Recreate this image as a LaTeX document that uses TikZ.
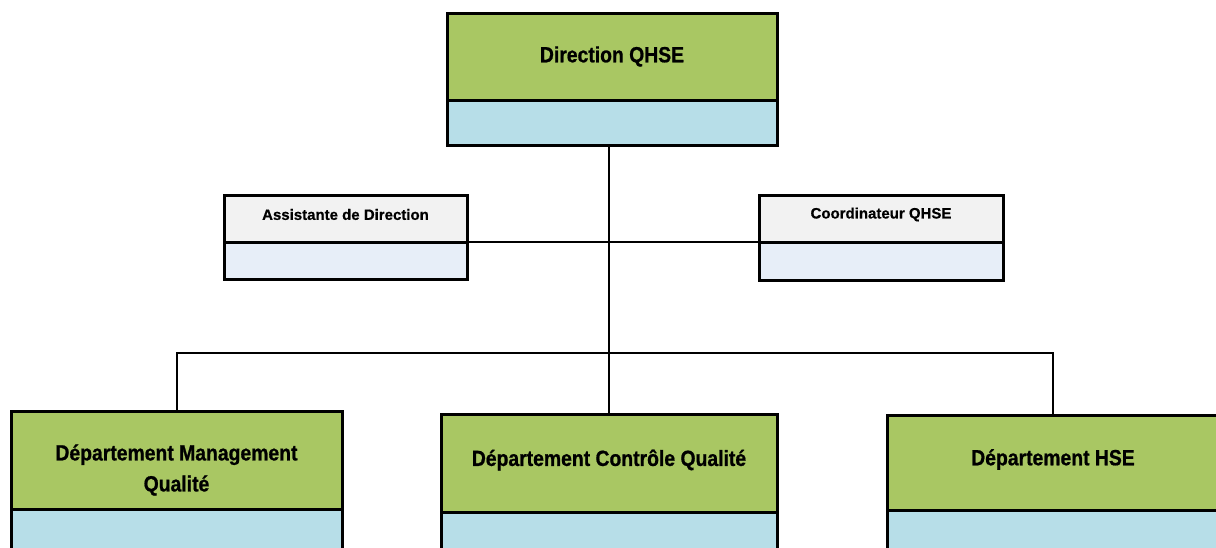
\documentclass[tikz,border=0pt]{standalone}
\usepackage{fontspec}
\setmainfont{Liberation Sans}
\newfontfamily\bigfont[FakeStretch=0.88,FakeBold=0.8]{Liberation Sans}
\newfontfamily\smallfont[FakeBold=0.6]{Liberation Sans}
\definecolor{boxgreen}{RGB}{169,199,99}
\definecolor{boxblue}{RGB}{183,222,232}
\definecolor{boxgray}{RGB}{242,242,242}
\definecolor{boxpale}{RGB}{231,238,248}
\tikzset{
  box/.style={draw=black, line width=3pt, inner sep=0pt, outer sep=0pt},
  greenbox/.style={box, fill=boxgreen},
  bluebox/.style={box, fill=boxblue},
  graybox/.style={box, fill=boxgray},
  palebox/.style={box, fill=boxpale},
  bigtxt/.style={font=\bigfont\bfseries\fontsize{22}{31}\selectfont, align=center, inner sep=0pt},
  smalltxt/.style={font=\smallfont\bfseries\fontsize{15}{18}\selectfont, inner sep=0pt},
  link/.style={draw=black, line width=2pt}
}
\begin{document}
\begin{tikzpicture}[x=1pt,y=-1pt]
\useasboundingbox (0,0) rectangle (1216,547);
\clip (0,0) rectangle (1216,547);
\coordinate (bus) at (609,353);
% top
\node[greenbox, minimum width=330pt, minimum height=87pt] (dq) at (612,56.5) {};
\node[bluebox, minimum width=330pt, minimum height=45pt] (dqb) at (612,122.5) {};
% staff
\node[graybox, minimum width=243pt, minimum height=47pt] (as) at (345.5,218.5) {};
\node[palebox, minimum width=243pt, minimum height=37pt] (asb) at (345.5,260.5) {};
\node[graybox, minimum width=244pt, minimum height=47pt] (co) at (881,218.5) {};
\node[palebox, minimum width=244pt, minimum height=38pt] (cob) at (881,261) {};
% departments
\node[greenbox, minimum width=331pt, minimum height=98pt] (ml) at (176.5,460) {};
\node[bluebox, minimum width=331pt, minimum height=52pt] (mlb) at (176.5,535) {};
\node[greenbox, minimum width=336pt, minimum height=98pt] (mc) at (609,463) {};
\node[bluebox, minimum width=336pt, minimum height=52pt] (mcb) at (609,538) {};
\node[greenbox, minimum width=332pt, minimum height=95pt] (hr) at (1053,462.5) {};
\node[bluebox, minimum width=332pt, minimum height=52pt] (hrb) at (1053,536.5) {};
% connectors
\draw[link] (dqb.south -| mc.north) -- (mc.north);
\draw[link] (as.south east) -- (co.south west);
\draw[link] (ml.north) -- (ml.north |- bus) -- (hr.north |- bus) -- (hr.north);
% texts
\node[bigtxt] (t1) at ([yshift=0pt]dq.center) {Direction QHSE};
\node[smalltxt] (t2) at ([yshift=4pt]as.center) {Assistante de Direction};
\node[smalltxt] (t3) at ([yshift=4pt]co.center) {Coordinateur QHSE};
\node[bigtxt] (t4) at ([yshift=-10pt]ml.center) {Département Management\\Qualité};
\node[bigtxt] (t5) at ([yshift=3pt]mc.center) {Département Contrôle Qualité};
\node[bigtxt] (t6) at ([yshift=3pt]hr.center) {Département HSE};
\end{tikzpicture}
\end{document}
